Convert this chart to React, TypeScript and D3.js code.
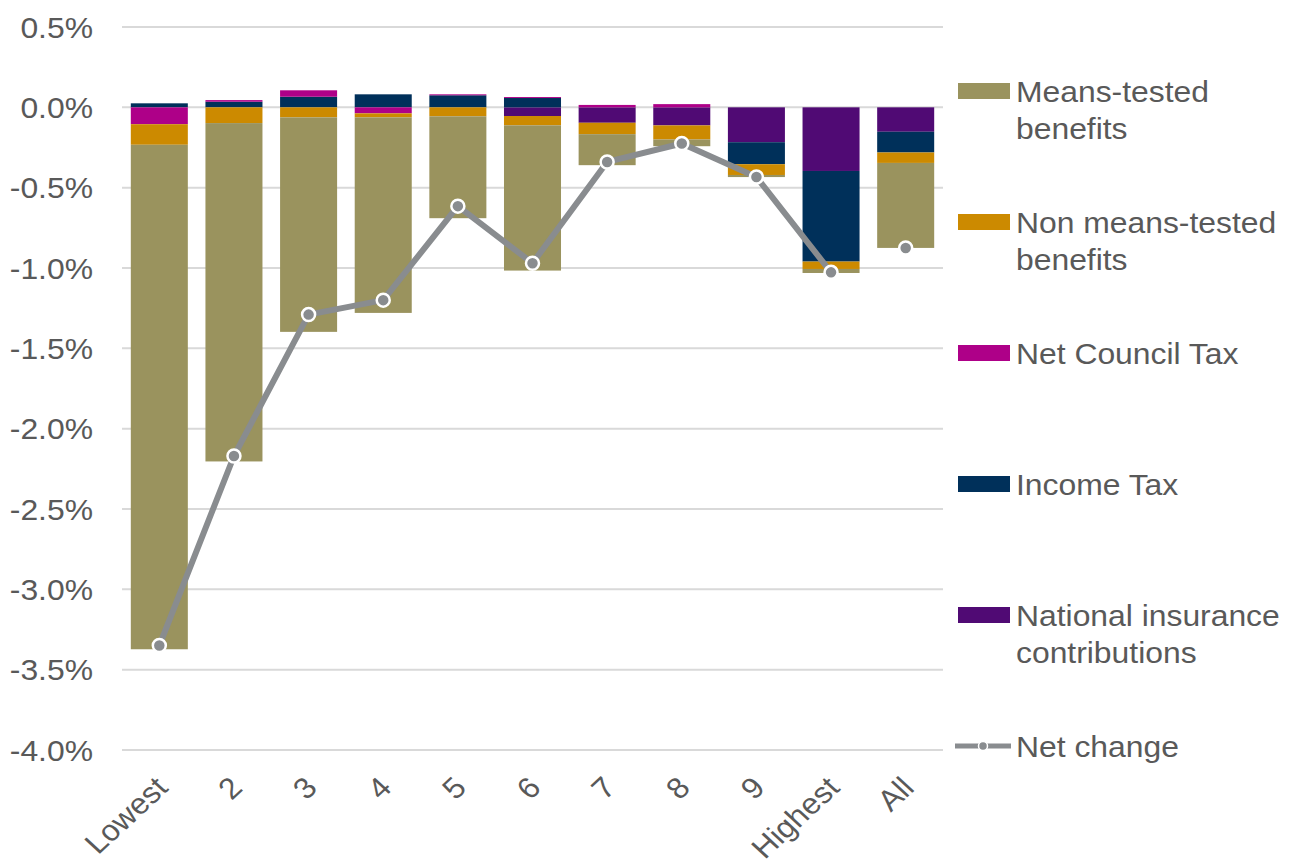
import { useEffect, useRef } from "react";
import * as d3 from "d3";

// Income deciles
const categories = ["Lowest", "2", "3", "4", "5", "6", "7", "8", "9", "Highest", "All"];

// Change in net income, %
const meansTested = [-3.14, -2.106, -1.335, -1.217, -0.634, -0.904, -0.193, -0.042, -0.013, -0.025, -0.529];
const nonMeansTested = [-0.128, -0.098, -0.0625, -0.025, -0.056, -0.058, -0.071, -0.0875, -0.067, -0.046, -0.065];
const councilTax = [-0.105, 0.01, 0.04, -0.0375, 0.006, 0.006, 0.015, 0.02, 0, 0, 0];
const incomeTax = [0.025, 0.035, 0.066, 0.081, 0.075, 0.058, 0, 0, -0.137, -0.564, -0.129];
const nationalInsurance = [0, 0, 0, 0, 0, -0.054, -0.096, -0.1125, -0.217, -0.396, -0.152];
const netChange = [-3.35, -2.17, -1.29, -1.2, -0.615, -0.97, -0.34, -0.225, -0.434, -1.027, -0.875];

const yTicks = [0.5, 0, -0.5, -1, -1.5, -2, -2.5, -3, -3.5, -4];

// stacking order, from zero outwards
const seriesKeys = ["ni", "it", "ct", "nmt", "mt"];
const seriesValues: Record<string, number[]> = {
  ni: nationalInsurance,
  it: incomeTax,
  ct: councilTax,
  nmt: nonMeansTested,
  mt: meansTested,
};
const colors: Record<string, string> = {
  mt: "#9A935E",
  nmt: "#CC8A00",
  ct: "#AE0088",
  it: "#00305A",
  ni: "#500A74",
};

const legendItems = [
  { key: "mt", lines: ["Means-tested", "benefits"] },
  { key: "nmt", lines: ["Non means-tested", "benefits"] },
  { key: "ct", lines: ["Net Council Tax"] },
  { key: "it", lines: ["Income Tax"] },
  { key: "ni", lines: ["National insurance", "contributions"] },
  { key: "net", lines: ["Net change"] },
];

const LINE = "#898C8F";
const TEXT = "#595959";
const FONT = "'Liberation Sans', Arial, sans-serif";
const FS = 29.5;
const SX = 1.08;

const fmtPct = (d: number) => (d < 0 ? "-" : "") + Math.abs(d).toFixed(1) + "%";

export default function App() {
  const ref = useRef<SVGSVGElement | null>(null);

  useEffect(() => {
    if (!ref.current) return;
    document.body.style.margin = "0";
    const svg = d3.select(ref.current);
    svg.selectAll("*").remove();

    const width = 1290;
    const height = 866;
    const plot = { left: 122, right: 943, top: 27, bottom: 750 };

    svg.attr("width", width).attr("height", height).attr("viewBox", `0 0 ${width} ${height}`);

    const x = d3
      .scaleBand<string>()
      .domain(categories)
      .range([plot.left, plot.right])
      .paddingInner(0.236)
      .paddingOuter(0.118);

    const y = d3.scaleLinear().domain([-4, 0.5]).range([plot.bottom, plot.top]);

    // gridlines
    svg
      .append("g")
      .selectAll("line")
      .data(yTicks)
      .join("line")
      .attr("x1", plot.left)
      .attr("x2", plot.right)
      .attr("y1", (d) => y(d))
      .attr("y2", (d) => y(d))
      .attr("stroke", "#D9D9D9")
      .attr("stroke-width", 2);

    // y labels
    svg
      .append("g")
      .selectAll("g")
      .data(yTicks)
      .join("g")
      .attr("transform", (d) => `translate(93,${y(d)}) scale(${SX},1)`)
      .append("text")
      .attr("text-anchor", "end")
      .attr("dy", "0.36em")
      .attr("font-family", FONT)
      .attr("font-size", FS)
      .attr("fill", TEXT)
      .text((d) => fmtPct(d));

    // stacked bars
    const rows = categories.map((c, i) => {
      const r: Record<string, any> = { cat: c };
      seriesKeys.forEach((k) => (r[k] = seriesValues[k][i]));
      return r;
    });
    const stacked = d3
      .stack<any>()
      .keys(seriesKeys)
      .offset(d3.stackOffsetDiverging)(rows);

    svg
      .append("g")
      .selectAll("g")
      .data(stacked)
      .join("g")
      .attr("fill", (s) => colors[s.key])
      .selectAll("rect")
      .data((s) => s)
      .join("rect")
      .attr("x", (d) => x(d.data.cat)!)
      .attr("width", x.bandwidth())
      .attr("y", (d) => y(Math.max(d[0], d[1])))
      .attr("height", (d) => Math.abs(y(d[0]) - y(d[1])));

    // net change line (deciles only, "All" stands alone)
    const linePts = categories.slice(0, 10).map((c, i) => [x(c)! + x.bandwidth() / 2, y(netChange[i])] as [number, number]);
    svg
      .append("path")
      .attr("d", d3.line()(linePts))
      .attr("fill", "none")
      .attr("stroke", LINE)
      .attr("stroke-width", 6)
      .attr("stroke-linejoin", "round");

    svg
      .append("g")
      .selectAll("circle")
      .data(netChange)
      .join("circle")
      .attr("cx", (_, i) => x(categories[i])! + x.bandwidth() / 2)
      .attr("cy", (d) => y(d))
      .attr("r", 6.5)
      .attr("fill", LINE)
      .attr("stroke", "#fff")
      .attr("stroke-width", 2.5);

    // x labels, rotated
    svg
      .append("g")
      .selectAll("g")
      .data(categories)
      .join("g")
      .attr("transform", (d) => `translate(${x(d)! + x.bandwidth() / 2 + 2},${782}) scale(${SX},1) rotate(-45)`)
      .append("text")
      .attr("text-anchor", "end")
      .attr("dy", "0.36em")
      .attr("font-family", FONT)
      .attr("font-size", FS)
      .attr("fill", TEXT)
      .text((d) => d);

    // legend
    const legend = svg
      .append("g")
      .selectAll("g")
      .data(legendItems)
      .join("g")
      .attr("transform", (_, i) => `translate(0,${91 + i * 131})`);

    legend
      .filter((d) => d.key !== "net")
      .append("rect")
      .attr("x", 958)
      .attr("y", -8)
      .attr("width", 52)
      .attr("height", 16)
      .attr("fill", (d) => colors[d.key]);

    const netLeg = legend.filter((d) => d.key === "net");
    netLeg
      .append("line")
      .attr("x1", 955)
      .attr("x2", 1011)
      .attr("stroke", LINE)
      .attr("stroke-width", 5);
    netLeg
      .append("circle")
      .attr("cx", 983)
      .attr("r", 4.5)
      .attr("fill", LINE)
      .attr("stroke", "#fff")
      .attr("stroke-width", 1.5);

    legend.each(function (d) {
      const g = d3.select(this);
      d.lines.forEach((ln, j) => {
        g.append("g")
          .attr("transform", `translate(1016,${10.5 + j * 37.5}) scale(${SX},1)`)
          .append("text")
          .attr("font-family", FONT)
          .attr("font-size", FS)
          .attr("fill", TEXT)
          .text(ln);
      });
    });
  }, []);

  return (
    <div style={{ position: "absolute", left: 0, top: 0, background: "#fff" }}>
      <svg ref={ref} style={{ display: "block" }}></svg>
    </div>
  );
}
